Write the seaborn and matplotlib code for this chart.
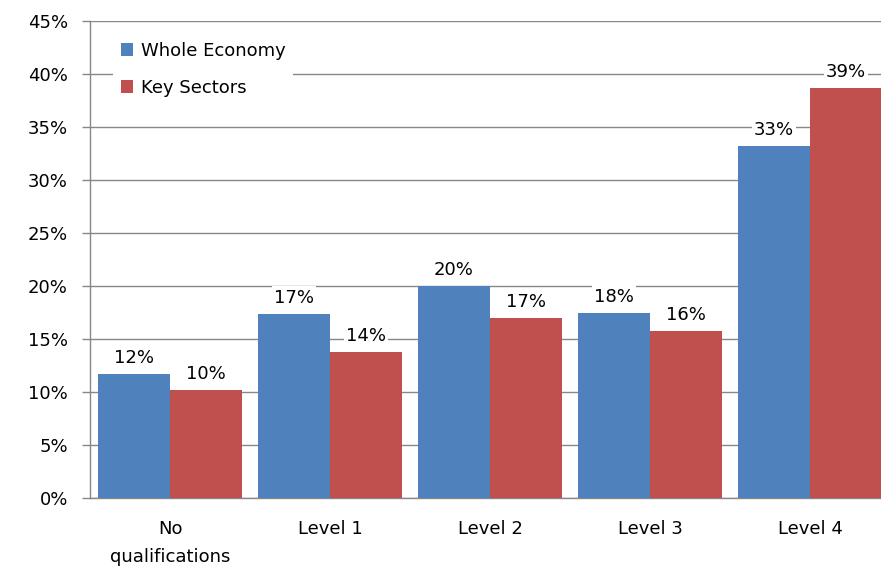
import matplotlib
matplotlib.use("Agg")
import matplotlib.pyplot as plt
import seaborn as sns
import pandas as pd

categories = ["No\nqualifications", "Level 1", "Level 2", "Level 3", "Level 4"]
whole_economy = [11.7, 17.4, 20.0, 17.5, 33.2]
key_sectors = [10.2, 13.8, 17.0, 15.8, 38.7]
series_names = ["Whole Economy", "Key Sectors"]
y_ticks = [0, 5, 10, 15, 20, 25, 30, 35, 40, 45]

df = pd.DataFrame({
    "cat": categories * 2,
    "val": whole_economy + key_sectors,
    "series": [series_names[0]] * len(categories) + [series_names[1]] * len(categories),
})

sns.set_style("white")
plt.rcParams["font.family"] = ["DejaVu Sans"]
plt.rcParams["text.color"] = "black"
plt.rcParams["xtick.labelcolor"] = "black"
plt.rcParams["ytick.labelcolor"] = "black"

FS = 13
fig = plt.figure(figsize=(8.81, 5.71), dpi=100)
ax = fig.add_axes([90 / 881, 73 / 571, 800 / 881, 477 / 571])

sns.barplot(data=df, x="cat", y="val", hue="series", order=categories,
            hue_order=series_names, palette=["#4F81BD", "#C0504D"],
            width=0.9, saturation=1, ax=ax, errorbar=None, zorder=3,
            linewidth=0, edgecolor="none")

ax.set_xlim(-0.5, 4.5)
ax.set_ylim(0, 45)
ax.set_yticks(y_ticks)
ax.set_yticklabels([f"{t}%" for t in y_ticks], fontsize=FS)
ax.yaxis.grid(True, color="#878787", linewidth=1, zorder=0)
ax.set_axisbelow(True)
ax.set_xlabel("")
ax.set_ylabel("")

ax.set_xticks(range(len(categories)))
ax.set_xticklabels(categories, fontsize=FS, linespacing=1.7)
ax.set_xticks([i - 0.5 for i in range(len(categories) + 1)], minor=True)
ax.tick_params(axis="x", which="major", length=0, pad=16)
ax.tick_params(axis="x", which="minor", length=6, color="#878787", width=1, direction="out")
ax.tick_params(axis="y", length=6, color="#878787", width=1, direction="out", left=True, pad=10)

for s in ["top", "right"]:
    ax.spines[s].set_visible(False)
for s in ["left", "bottom"]:
    ax.spines[s].set_color("#878787")
    ax.spines[s].set_linewidth(1)

for container in ax.containers:
    for bar in container:
        h = bar.get_height()
        ax.annotate(f"{h:.0f}%", (bar.get_x() + bar.get_width() / 2, h),
                    xytext=(0, 5), textcoords="offset points",
                    ha="center", va="bottom", fontsize=FS, zorder=5,
                    bbox=dict(boxstyle="square,pad=0.12", fc="white", ec="none"))

leg = ax.legend(loc="upper left", bbox_to_anchor=(0.018, 0.99), frameon=True,
                fontsize=FS, handlelength=0.7, handleheight=0.7,
                handletextpad=0.45, labelspacing=1.05, borderpad=0.4)
leg.get_frame().set_facecolor("white")
leg.get_frame().set_edgecolor("none")
leg.get_frame().set_alpha(1)
leg.get_frame().set_boxstyle("square", pad=0)
leg.set_zorder(6)

fig.savefig("out.png", dpi=100)
